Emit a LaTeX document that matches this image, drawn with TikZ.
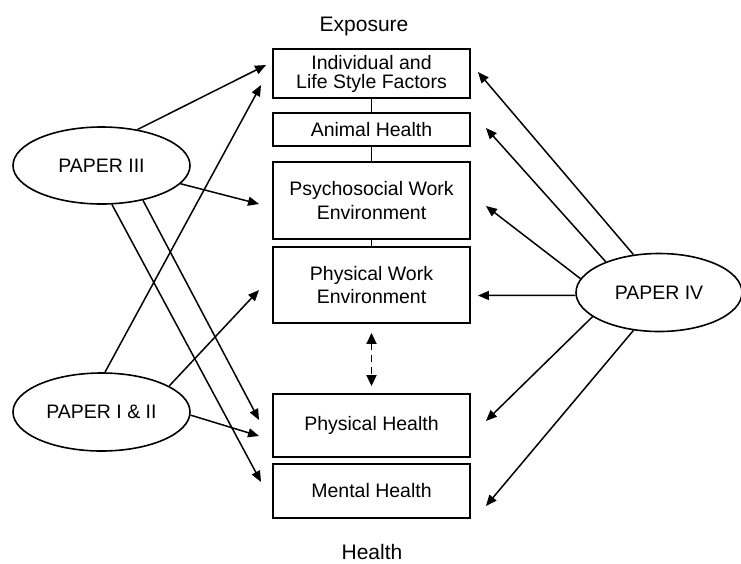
\documentclass[tikz,border=0pt]{standalone}
\usepackage{fontspec}
\setmainfont{Liberation Sans}
\usetikzlibrary{arrows.meta,shapes.geometric}
\tikzset{
	box/.style={draw, line width=1.9pt, minimum width=197pt, inner sep=0pt, align=center, font=\fontsize{19.5}{23.5}\selectfont},
	paper/.style={ellipse, draw, line width=1.6pt, minimum width=177pt, minimum height=77pt, inner sep=0pt, font=\fontsize{19.5}{23.5}\selectfont},
	arr/.style={line width=1.5pt, -{Triangle[length=11pt,width=9pt]}},
	link/.style={line width=1.9pt},
	title/.style={anchor=base, inner sep=0pt, font=\fontsize{21}{25}\selectfont}
}

\begin{document}
\begin{tikzpicture}[x=1pt, y=-1pt]
		%%%%% START %%%%%
		\useasboundingbox (0, 0) rectangle (741, 563);
		
		\node[title] (expo) at (364, 31) {Exposure};
		\node[title] (hlth) at (372, 559) {Health};
		
		\node[box, minimum height=49pt, font=\fontsize{19.5}{19}\selectfont] (ind) at (371.5, 73.5) {Individual and\\Life Style Factors};
		\node[box, minimum height=33pt] (anim) at (371.5, 129.5) {Animal Health};
		\node[box, minimum height=77pt] (psy) at (371.5, 200.5) {Psychosocial Work\\Environment};
		\node[box, minimum height=76pt] (phyw) at (371.5, 285) {Physical Work\\Environment};
		\node[box, minimum height=63pt] (phyh) at (371.5, 425.5) {Physical Health};
		\node[box, minimum height=54pt] (ment) at (371.5, 491) {Mental Health};
		
		\draw[link] (ind) -- (anim);
		\draw[link] (anim) -- (psy);
		\draw[link] (psy) -- (phyw);
		\draw[line width=1.9pt, dash pattern=on 7pt off 5pt, {Triangle[length=11pt,width=10pt]}-{Triangle[length=11pt,width=10pt]}, shorten <=9pt, shorten >=7pt] (phyw) -- (phyh);
		
		\node[paper] (p3) at (101.5, 165.5) {PAPER III};
		\node[paper, minimum height=78pt] (p12) at (101.5, 412) {PAPER I \& II};
		\node[paper, minimum width=166pt, minimum height=78pt] (p4) at (659, 292.5) {PAPER IV};
		
		% paper III
		\draw[arr] (p3.45) -- ([xshift=-6pt, yshift=8.5pt]ind.west);
		\draw[arr] (p3.-13.6) -- ([xshift=-13pt, yshift=-3.5pt]psy.west);
		\draw[arr] (p3.-40) -- ([xshift=-13pt, yshift=5.5pt]phyh.west);
		\draw[arr] (p3.-75) -- ([xshift=-11pt, yshift=9pt]ment.west);
		
		% paper I & II
		\draw[arr] (p12.85) -- ([xshift=-11pt, yshift=-11.5pt]ind.west);
		\draw[arr] (p12.21) -- ([xshift=-13pt, yshift=-5pt]phyw.west);
		\draw[arr] (p12.-2) -- ([xshift=-13pt, yshift=-10.5pt]phyh.west);
		
		% paper IV
		\draw[arr] (p4.124) -- ([xshift=7pt, yshift=1.5pt]ind.east);
		\draw[arr] (p4.150) -- ([xshift=15pt, yshift=1.5pt]anim.east);
		\draw[arr] (p4.170) -- ([xshift=15pt, yshift=-5.5pt]psy.east);
		\draw[arr] (p4.182) -- ([xshift=7pt, yshift=-10.5pt]phyw.east);
		\draw[arr] (p4.200) -- ([xshift=15pt, yshift=4.5pt]phyh.east);
		\draw[arr] (p4.236) -- ([xshift=15pt, yshift=-15pt]ment.east);
		
		%%%%% END %%%%%
\end{tikzpicture}
\end{document}
